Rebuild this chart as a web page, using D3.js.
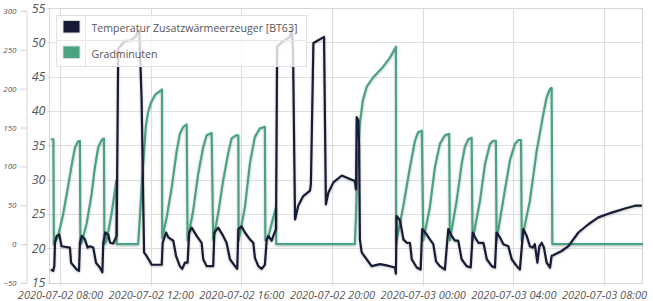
<!DOCTYPE html>
<html>
<head>
<meta charset="utf-8">
<script src="https://cdn.jsdelivr.net/npm/d3@7"></script>
<style>
  body { margin: 0; background: #fff; }
  svg text { font-family: "Open Sans", sans-serif; }
</style>
</head>
<body>
<svg id="chart" width="653" height="301"></svg>
<script>
// time in decimal hours since 2020-07-02 00:00, value
const bt63 = [
  [7.60,16.9],[7.70,16.7],[7.75,17.4],[7.78,20.8],[7.85,21.8],[7.97,22.0],[8.07,20.3],[8.44,20.1],[8.49,17.9],[8.74,16.9],[8.84,16.7],
  [8.88,20.8],[8.96,21.8],[9.10,21.3],[9.22,20.1],[9.32,20.3],[9.47,20.1],[9.59,17.9],[9.76,17.2],[9.87,16.5],
  [9.91,20.8],[10.00,22.3],[10.13,22.0],[10.21,20.8],[10.35,20.7],[10.50,21.8],
  [10.57,49.1],[10.87,50.2],[11.13,50.3],[11.35,50.9],[11.46,51.8],[11.50,51.6],[11.60,41.8],[11.71,19.4],[11.82,18.9],[12.05,17.6],[12.49,17.6],
  [12.53,20.8],[12.68,22.3],[12.78,21.6],[13.00,21.1],[13.12,18.9],[13.29,17.4],[13.39,17.0],[13.51,17.9],[13.63,17.9],
  [13.70,22.3],[13.81,23.0],[14.03,21.8],[14.25,20.8],[14.32,18.4],[14.47,17.4],[14.76,17.4],
  [14.81,22.3],[14.98,23.0],[15.20,21.8],[15.35,20.8],[15.50,18.4],[15.72,17.4],[15.82,17.0],
  [15.87,22.8],[16.01,23.2],[16.16,22.3],[16.38,21.3],[16.53,20.8],[16.60,18.6],[16.75,17.4],[16.90,17.0],[17.04,17.6],
  [17.12,21.3],[17.19,21.8],[17.34,21.1],[17.41,21.8],[17.53,22.8],
  [17.58,49.4],[17.87,50.2],[18.14,50.8],[18.22,51.8],[18.28,49.1],[18.37,24.2],[18.51,26.2],[18.73,27.6],[19.03,28.4],[19.07,29.4],
  [19.18,49.9],[19.65,50.8],[19.73,26.4],[19.84,28.1],[20.06,29.6],[20.43,30.6],[20.79,30.1],[21.01,29.8],[21.06,28.6],
  [21.09,39.1],[21.16,38.6],[21.20,34.5],[21.23,21.3],[21.31,19.4],[21.53,18.4],[21.75,17.4],[22.12,17.7],[22.41,17.5],[22.78,17.2],[22.82,16.3],
  [22.85,24.7],[23.00,24.1],[23.15,21.3],[23.30,20.8],[23.44,20.8],[23.52,18.4],[23.74,17.2],[23.91,16.9],
  [23.98,22.8],[24.18,22.0],[24.32,21.3],[24.47,20.6],[24.59,18.1],[24.76,17.4],[24.98,16.9],
  [25.13,22.8],[25.28,21.8],[25.42,21.1],[25.57,21.1],[25.72,18.4],[25.94,17.4],[26.12,17.2],
  [26.21,22.3],[26.31,21.6],[26.46,20.8],[26.68,20.8],[26.83,18.4],[27.05,17.4],[27.19,17.2],
  [27.26,22.3],[27.41,21.6],[27.56,20.6],[27.78,20.3],[27.93,18.4],[28.15,17.4],[28.29,16.9],
  [28.44,22.8],[28.59,21.8],[28.73,20.3],[28.85,20.1],[28.95,20.6],[29.06,17.9],[29.15,20.3],[29.25,20.8],[29.35,20.1],[29.47,17.9],[29.62,17.2],
  [29.69,18.9],[29.76,19.0],[30.13,19.6],[30.43,20.3],[30.87,22.3],[31.31,23.5],[31.75,24.5],[32.34,25.2],[32.92,25.8],[33.37,26.2],[33.67,26.2]
];

const gradminuten = [
  [7.60,135],[7.71,135],[7.73,0],
  [7.76,2],[7.91,10],[8.13,37],[8.35,73],[8.53,104],[8.66,124],[8.79,132],[8.88,133],[8.90,0],
  [8.96,2],[9.18,27],[9.40,65],[9.54,99],[9.69,125],[9.84,134],[9.94,136],[9.96,0],
  [10.06,5],[10.28,40],[10.47,78],[10.49,82],[10.50,0],
  [11.45,0],[11.53,37],[11.62,82],[11.71,120],[11.79,152],[11.88,169],[12.01,182],[12.19,192],[12.41,197],[12.50,199],[12.51,8],
  [12.71,35],[12.93,73],[13.15,120],[13.29,142],[13.44,151],[13.59,154],[13.63,5],
  [13.88,44],[14.10,91],[14.32,125],[14.47,140],[14.69,143],[14.76,5],
  [14.98,40],[15.20,82],[15.42,117],[15.57,136],[15.76,140],[15.87,140],[15.88,5],
  [16.16,48],[16.38,104],[16.60,138],[16.82,149],[17.04,151],[17.06,5],
  [17.18,8],[17.35,28],[17.53,47],[17.54,0],
  [21.01,0],[21.06,37],[21.10,82],[21.23,155],[21.36,185],[21.54,203],[21.80,214],[22.25,228],[22.56,240],[22.82,254],[22.83,0],
  [22.85,5],[23.14,48],[23.44,99],[23.66,133],[23.80,144],[23.96,146],[24.03,5],
  [24.32,48],[24.54,99],[24.76,129],[24.98,140],[25.17,142],[25.20,5],
  [25.50,56],[25.72,103],[25.86,125],[26.01,135],[26.16,137],[26.20,5],
  [26.53,56],[26.75,103],[26.97,129],[27.11,133],[27.23,133],[27.26,5],
  [27.55,56],[27.85,108],[28.07,129],[28.22,134],[28.34,134],[28.37,5],
  [28.73,56],[29.03,120],[29.32,167],[29.47,189],[29.62,200],[29.69,201],[29.72,0],
  [33.72,0]
];

const tempTicks = [15, 20, 25, 30, 35, 40, 45, 50, 55];
const gradTicks = [-50, 0, 50, 100, 150, 200, 250, 300];
const timeTicks = ["2020-07-02 08:00", "2020-07-02 12:00", "2020-07-02 16:00", "2020-07-02 20:00",
                   "2020-07-03 00:00", "2020-07-03 04:00", "2020-07-03 08:00"];
const seriesNames = ["Temperatur Zusatzwärmeerzeuger [BT63]", "Gradminuten"];
const seriesColors = ["#161b35", "#4aa381"];

const day0 = Date.UTC(2020, 6, 2);
const toDate = h => new Date(day0 + h * 3600e3);
const parseTime = d3.utcParse("%Y-%m-%d %H:%M");

const svg = d3.select("#chart");
const pL = 50, pR = 643, pT = 8, pB = 283;

const x = d3.scaleUtc().domain([toDate(7.56), toDate(33.72)]).range([pL, pR]);
const yT = d3.scaleLinear().domain([15, 55]).range([282.6, pT]);
const yG = d3.scaleLinear().domain([-50, 300]).range([283, 11]);

const defs = svg.append("defs");
defs.append("clipPath").attr("id", "plot")
  .append("rect").attr("x", pL).attr("y", pT).attr("width", pR - pL).attr("height", pB - pT);
const sh = defs.append("filter").attr("id", "shadow").attr("x", "-5%").attr("y", "-5%").attr("width", "110%").attr("height", "110%");
sh.append("feDropShadow").attr("dx", 0).attr("dy", 1).attr("stdDeviation", 0.8)
  .attr("flood-color", "#000").attr("flood-opacity", 0.25);

// grid
const grid = svg.append("g");
grid.selectAll(".hg").data(tempTicks).join("line")
  .attr("x1", pL).attr("x2", pR)
  .attr("y1", d => Math.round(yT(d)) + 0.5).attr("y2", d => Math.round(yT(d)) + 0.5)
  .attr("stroke", "#e0e0e0");
grid.selectAll(".vg").data(timeTicks.map(parseTime)).join("line")
  .attr("x1", d => Math.round(x(d)) + 0.5).attr("x2", d => Math.round(x(d)) + 0.5)
  .attr("y1", pT).attr("y2", pB + 3)
  .attr("stroke", "#dcdcdc");
svg.append("rect").attr("x", pL - 0.5).attr("y", pT + 0.5).attr("width", pR - pL).attr("height", pB - pT)
  .attr("fill", "none").attr("stroke", "#d6d6d6");

// axes
const styleAxis = (g, size, color) => {
  g.selectAll("text").attr("font-style", "italic").attr("font-size", size).attr("fill", color);
  g.selectAll(".tick line").attr("stroke", "#cfcfcf");
  g.select(".domain").attr("stroke", "#d6d6d6");
};

svg.append("g").attr("transform", "translate(26.5,0)")
  .call(d3.axisLeft(yG).tickValues(gradTicks).tickSize(6).tickSizeOuter(0).tickPadding(4))
  .call(g => styleAxis(g, 8, "#555"));

svg.append("g").attr("transform", "translate(49.5,0)")
  .call(d3.axisLeft(yT).tickValues(tempTicks).tickSize(2).tickSizeOuter(0).tickPadding(2))
  .call(g => styleAxis(g, 12.5, "#555"))
  .call(g => g.select(".domain").remove());

svg.append("g").attr("transform", `translate(0,${pB})`)
  .call(d3.axisBottom(x).tickValues(timeTicks.map(parseTime)).tickFormat(d3.utcFormat("%Y-%m-%d %H:%M")).tickSize(0).tickPadding(8))
  .call(g => styleAxis(g, 11, "#555"))
  .call(g => g.select(".domain").remove());

// lines
const plot = svg.append("g").attr("clip-path", "url(#plot)");
plot.append("path").datum(gradminuten)
  .attr("d", d3.line().x(d => x(toDate(d[0]))).y(d => yG(d[1])))
  .attr("fill", "none").attr("stroke", seriesColors[1]).attr("stroke-width", 2.2)
  .attr("stroke-linejoin", "round").attr("filter", "url(#shadow)");
plot.append("path").datum(bt63)
  .attr("d", d3.line().x(d => x(toDate(d[0]))).y(d => yT(d[1])))
  .attr("fill", "none").attr("stroke", seriesColors[0]).attr("stroke-width", 2.2)
  .attr("stroke-linejoin", "round").attr("filter", "url(#shadow)");

// legend
const lg = svg.append("g");
lg.append("rect").attr("x", 56.5).attr("y", 15.5).attr("width", 250).attr("height", 51)
  .attr("fill", "#fff").attr("fill-opacity", 0.8).attr("stroke", "#e2e2e2");
lg.append("line").attr("x1", 56.5).attr("x2", 306.5).attr("y1", 40.5).attr("y2", 40.5).attr("stroke", "#e6e6e6");
lg.append("line").attr("x1", 85.5).attr("x2", 85.5).attr("y1", 15.5).attr("y2", 66.5).attr("stroke", "#e6e6e6");
seriesNames.forEach((name, i) => {
  const y0 = 15.5 + i * 25.5;
  lg.append("rect").attr("x", 63).attr("y", y0 + 5).attr("width", 17).attr("height", 12.5)
    .attr("fill", seriesColors[i]).attr("stroke", "#ddd").attr("stroke-width", 1);
  lg.append("text").attr("x", 91.5).attr("y", y0 + 16.5)
    .attr("font-family", "Roboto, sans-serif")
    .attr("font-size", 12).attr("fill", "#555").text(name);
});
// fit the long legend label to the box like the reference
const first = lg.select("text").node();
const scale = 206 / first.getComputedTextLength();
lg.selectAll("text").attr("font-size", 12 * scale);
</script>
</body>
</html>
